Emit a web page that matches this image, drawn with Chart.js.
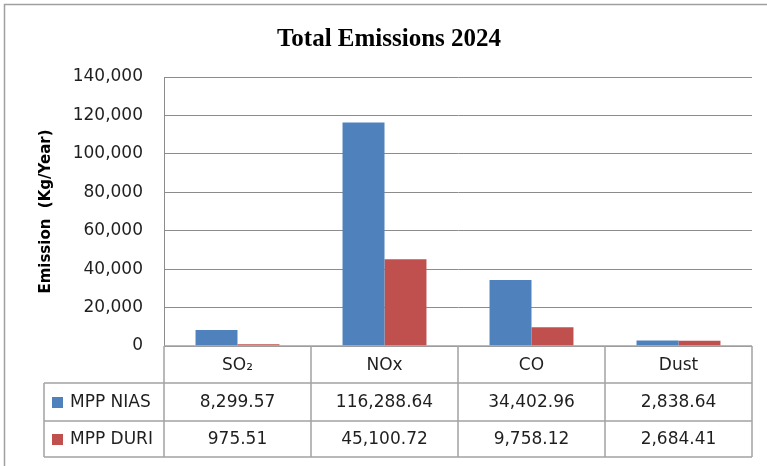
<!DOCTYPE html>
<html>
<head>
<meta charset="utf-8">
<script src="https://cdn.jsdelivr.net/npm/chart.js@4.4.1/dist/chart.umd.min.js"></script>
<style>
  html, body { margin: 0; padding: 0; background: #ffffff; }
  #wrap { width: 767px; height: 466px; position: relative; }
</style>
</head>
<body>
<div id="wrap"><canvas id="c" width="767" height="466"></canvas></div>
<script>
// ---- Data ----
const chartTitle = 'Total Emissions 2024';
const yAxisTitle = 'Emission  (Kg/Year)';
const categories = ['SO\u2082', 'NOx', 'CO', 'Dust'];
const seriesNames = ['MPP NIAS', 'MPP DURI'];
const mppNias = [8299.57, 116288.64, 34402.96, 2838.64];
const mppDuri = [975.51, 45100.72, 9758.12, 2684.41];
const yTicks = [0, 20000, 40000, 60000, 80000, 100000, 120000, 140000];

// ---- Style ----
const colors = ['#4F81BD', '#C0504D'];
const gridColor = '#8c8c8c';
const tableLine = '#a3a3a3';
const textColor = '#1f1f1f';
const baseFont = '"DejaVu Sans", sans-serif';

function fmtInt(v) {
  return String(Math.round(v)).replace(/\B(?=(\d{3})+(?!\d))/g, ',');
}
function fmt2(v) {
  const parts = v.toFixed(2).split('.');
  return parts[0].replace(/\B(?=(\d{3})+(?!\d))/g, ',') + '.' + parts[1];
}

const decorPlugin = {
  id: 'decor',
  afterDraw(chart) {
    const ctx = chart.ctx;
    const ca = chart.chartArea;
    const xs = chart.scales.x;
    const n = categories.length;
    const cw = (ca.right - ca.left) / n;
    const rowTop = ca.bottom;
    const row1 = rowTop + 37;
    const row2 = row1 + 38;
    const row3 = row2 + 36;
    const tableLeft = 44;

    ctx.save();
    // outer border (top & left)
    ctx.strokeStyle = '#a0a0a0';
    ctx.lineWidth = 1.5;
    ctx.beginPath();
    ctx.moveTo(4.5, 466); ctx.lineTo(4.5, 4.5); ctx.lineTo(767, 4.5);
    ctx.stroke();

    // title
    ctx.fillStyle = '#000000';
    ctx.font = 'bold 25px "Liberation Serif", serif';
    ctx.textAlign = 'center';
    ctx.textBaseline = 'alphabetic';
    ctx.fillText(chartTitle, 389, 46);

    // table lines
    ctx.strokeStyle = tableLine;
    ctx.lineWidth = 1.5;
    ctx.beginPath();
    ctx.moveTo(ca.left, rowTop); ctx.lineTo(ca.right, rowTop);
    [row1, row2, row3].forEach(y => { ctx.moveTo(tableLeft, y); ctx.lineTo(ca.right, y); });
    for (let i = 0; i <= n; i++) {
      const x = ca.left + i * cw;
      ctx.moveTo(x, rowTop); ctx.lineTo(x, row3);
    }
    ctx.moveTo(tableLeft, row1); ctx.lineTo(tableLeft, row3);
    ctx.stroke();

    // category labels
    ctx.fillStyle = textColor;
    ctx.font = '17px ' + baseFont;
    ctx.textAlign = 'center';
    ctx.textBaseline = 'middle';
    categories.forEach((c, i) => {
      ctx.fillText(c, xs.getPixelForValue(i), (rowTop + row1) / 2 + 1);
    });

    // series rows
    const rows = [[row1, row2], [row2, row3]];
    const dataSets = [mppNias, mppDuri];
    rows.forEach((r, s) => {
      const cy = (r[0] + r[1]) / 2 + 1;
      ctx.fillStyle = colors[s];
      ctx.fillRect(52, cy - 6, 11, 11);
      ctx.fillStyle = textColor;
      ctx.textAlign = 'left';
      ctx.fillText(seriesNames[s], 70, cy);
      ctx.textAlign = 'center';
      dataSets[s].forEach((v, i) => {
        ctx.fillText(fmt2(v), xs.getPixelForValue(i), cy);
      });
    });
    ctx.restore();
  }
};

new Chart(document.getElementById('c'), {
  type: 'bar',
  data: {
    labels: categories,
    datasets: [
      { label: seriesNames[0], data: mppNias, backgroundColor: colors[0], borderWidth: 0 },
      { label: seriesNames[1], data: mppDuri, backgroundColor: colors[1], borderWidth: 0 }
    ]
  },
  options: {
    responsive: false,
    animation: false,
    devicePixelRatio: 1,
    layout: { padding: { left: 5, right: 15, top: 77, bottom: 120 } },
    datasets: { bar: { categoryPercentage: 0.571, barPercentage: 1.0 } },
    plugins: {
      legend: { display: false },
      title: { display: false },
      tooltip: { enabled: false }
    },
    scales: {
      x: { display: false },
      y: {
        min: 0,
        max: yTicks[yTicks.length - 1],
        afterBuildTicks(scale) { scale.ticks = yTicks.map(v => ({ value: v })); },
        afterFit(scale) { scale.width = 159; },
        ticks: {
          callback: v => fmtInt(v),
          font: { family: baseFont, size: 17 },
          color: textColor,
          padding: 21
        },
        grid: { color: gridColor, lineWidth: 1, drawTicks: false },
        border: { display: true, color: gridColor, width: 1 },
        title: {
          display: true,
          text: yAxisTitle,
          font: { family: baseFont, size: 15, weight: 'bold' },
          color: '#000000',
          padding: { top: 32, bottom: 0 }
        }
      }
    }
  },
  plugins: [decorPlugin]
});
</script>
</body>
</html>
